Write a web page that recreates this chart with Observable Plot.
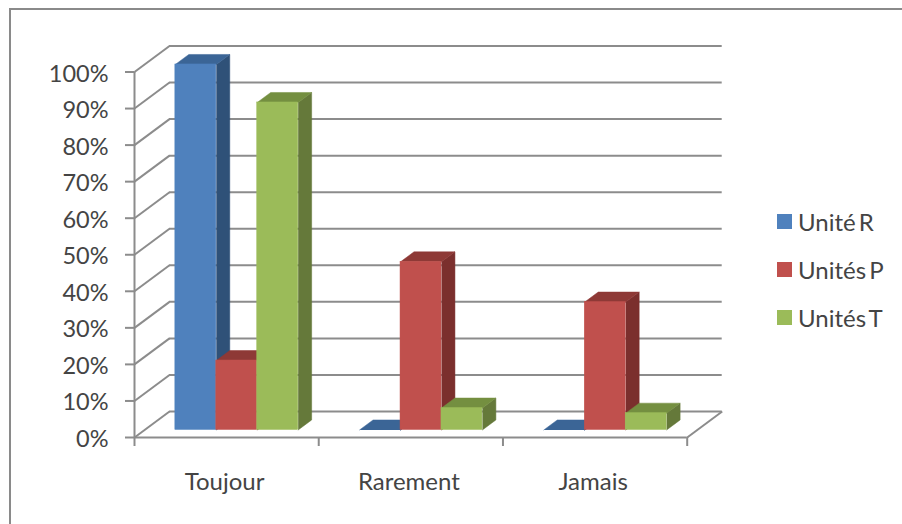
<!DOCTYPE html>
<html>
<head>
<meta charset="utf-8">
<script src="https://cdn.jsdelivr.net/npm/d3@7"></script>
<script src="https://cdn.jsdelivr.net/npm/@observablehq/plot@0.6"></script>
<style>
  html, body { margin: 0; padding: 0; background: #fff; }
  #chart { position: relative; width: 902px; height: 524px; overflow: hidden; font-family: Lato, sans-serif; }
  #frame { position: absolute; left: 9px; top: 8px; right: -4px; bottom: -4px; border: 2px solid #8a8a8a; }
  #chart svg { position: absolute; left: 0; top: 0; background: transparent; }
  .key { position: absolute; left: 777px; display: flex; align-items: center; height: 16px; font-size: 24px; color: #444; word-spacing: -3px; }
  .key i { display: block; width: 15px; height: 15px; margin-right: 6px; }
</style>
</head>
<body>
<div id="chart"><div id="frame"></div></div>
<script>
// Share of answers per frequency, for each group of units
const categories = ["Toujour", "Rarement", "Jamais"];
const seriesNames = ["Unité R", "Unités P", "Unités T"];
const uniteR = [100, 0, 0];
const unitesP = [19, 46, 35];
const unitesT = [89.6, 6, 4.6];
const yTicks = [0, 10, 20, 30, 40, 50, 60, 70, 80, 90, 100];

// Front, top and side shades for each series
const frontColors = ["#4f81bd", "#c0504d", "#9bbb59"];
const topColors = ["#3b6596", "#8e3936", "#748f40"];
const sideColors = ["#2f5178", "#7b2f2d", "#65793a"];

// Oblique projection, expressed in data units: depth of the floor along x and y
const depthX = 0.19;
const depthY = 7.11;
const barFront = 0.29;   // where bars start within the depth
const barDepth = 0.385;  // how much of the depth they occupy
const barWidth = 1 / 4.5;
const barOffset = 0.75 / 4.5;

const grid = "#8c8c8c";
const seriesValues = [uniteR, unitesP, unitesT];

// Build the three faces of one bar and draw them back to front
function barMarks(value, catIndex, serIndex) {
  const x1 = catIndex + barOffset + serIndex * barWidth + barFront * depthX;
  const x2 = x1 + barWidth;
  const y0 = barFront * depthY;
  const yTop = value + y0;
  const dx = barDepth * depthX;
  const dy = barDepth * depthY;
  const polygon = (points, fill) =>
    Plot.line(points, {x: "0", y: "1", fill, stroke: fill, strokeWidth: 0.5});
  const front = frontColors[serIndex];
  return [
    polygon([[x2, y0], [x2 + dx, y0 + dy], [x2 + dx, yTop + dy], [x2, yTop]], sideColors[serIndex]),
    polygon([[x1, yTop], [x1 + dx, yTop + dy], [x2 + dx, yTop + dy], [x2, yTop]], topColors[serIndex]),
    Plot.rect([value], {x1, x2, y1: y0, y2: yTop, fill: front, stroke: value > 0 ? front : "none", strokeWidth: 0.5})
  ];
}

const wallStyle = {stroke: grid, strokeWidth: 2};

const svg = Plot.plot({
  width: 902,
  height: 524,
  marginLeft: 134,
  marginRight: 180,
  marginTop: 40,
  marginBottom: 87,
  style: {fontFamily: "Lato, sans-serif", background: "transparent", overflow: "visible"},
  x: {type: "linear", domain: [0, 3], range: [134, 686.7]},
  y: {type: "linear", domain: [0, 100], range: [437, 71.5]},
  marks: [
    // Back wall and side wall gridlines
    Plot.ruleY(yTicks, {x1: depthX, x2: 3 + depthX, y: d => d + depthY, ...wallStyle}),
    Plot.link(yTicks, {x1: 0, y1: d => d, x2: depthX, y2: d => d + depthY, ...wallStyle}),
    // Right edge of the floor
    Plot.link([0], {x1: 3, y1: 0, x2: 3 + depthX, y2: depthY, ...wallStyle}),
    // Front axes
    Plot.ruleX([0], {y1: 0, y2: 100, ...wallStyle}),
    Plot.ruleY([0], {x1: 0, x2: 3, ...wallStyle}),
    // Bars, category by category so that nearer faces cover farther ones
    ...categories.flatMap((_, c) =>
      seriesNames.flatMap((_, s) => barMarks(seriesValues[s][c], c, s))
    ),
    // Value axis: tick marks and their labels, the labels sitting slightly lower
    Plot.axisY(yTicks, {anchor: "left", tickSize: 9, text: null, stroke: grid, strokeWidth: 2, label: null}),
    Plot.axisY(yTicks, {
      anchor: "left",
      tickSize: 0,
      tickPadding: 26,
      tickFormat: d => d + "%",
      fontSize: 23.5,
      fill: "#444",
      dy: 2,
      label: null
    }),
    // Category axis: separators between groups, names centred in each group
    Plot.axisX([0, 1, 2, 3], {anchor: "bottom", tickSize: 9, text: null, stroke: grid, strokeWidth: 2, label: null}),
    Plot.axisX([0.5, 1.5, 2.5], {
      anchor: "bottom",
      tickSize: 0,
      tickPadding: 35,
      tickFormat: d => categories[d - 0.5],
      fontSize: 24,
      fill: "#444",
      dx: -2,
      label: null
    })
  ]
});

const chart = document.getElementById("chart");
chart.appendChild(svg);

// Legend to the right of the plot
const keyTops = [213, 261, 309];
seriesNames.forEach((name, i) => {
  const key = document.createElement("div");
  key.className = "key";
  key.style.top = keyTops[i] + "px";
  const swatch = document.createElement("i");
  swatch.style.background = frontColors[i];
  key.appendChild(swatch);
  key.appendChild(document.createTextNode(name));
  chart.appendChild(key);
});
</script>
</body>
</html>
